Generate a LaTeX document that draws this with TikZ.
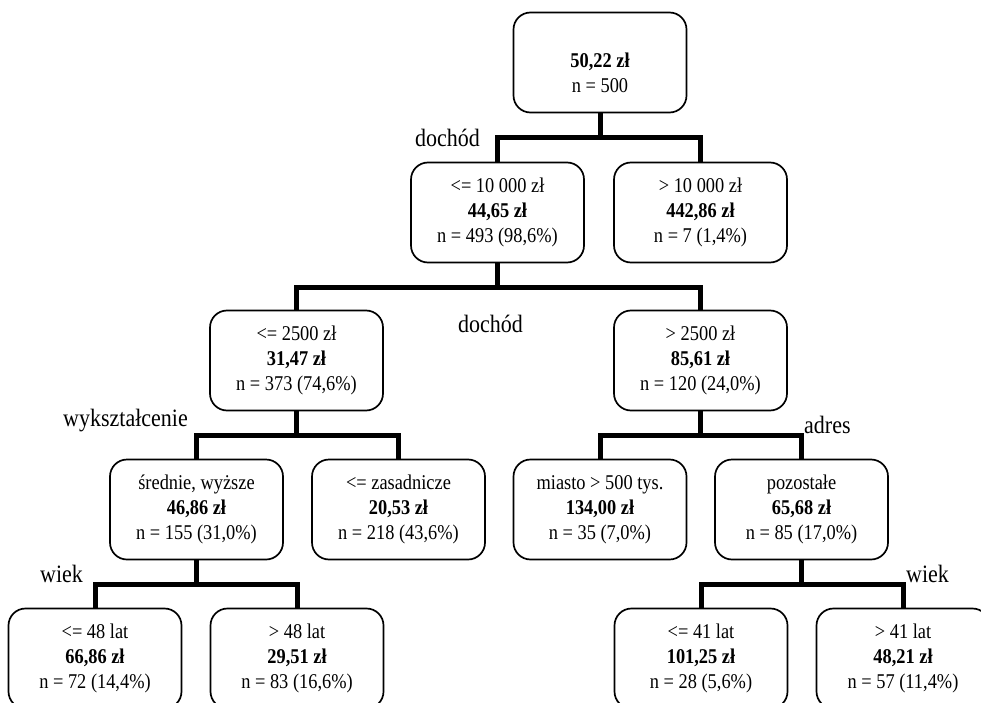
\documentclass[tikz,border=0pt]{standalone}
\usepackage{fontspec}
\usepackage{graphicx}
\setmainfont{Liberation Serif}
\newcommand{\bx}[3]{\scalebox{0.875}[1]{\begin{tabular}{@{}c@{}}#1\\\textbf{#2}\\#3\end{tabular}}}
\newcommand{\lbltxt}[1]{\scalebox{0.88}[1]{#1}}
\tikzset{
  box/.style={draw, line width=1.7pt, rounded corners=17pt, minimum width=173pt,
    minimum height=100pt, align=center, inner sep=0pt,
    font=\fontsize{21}{25}\selectfont},
  conn/.style={line width=5pt},
  split/.style={to path={(\tikztostart) -- ++(0,24.5) -| (\tikztotarget)}},
  lbl/.style={font=\fontsize{25}{28}\selectfont, inner sep=0pt, anchor=base west}
}
\begin{document}
\begin{tikzpicture}[x=1pt,y=-1pt]
\useasboundingbox (0,0) rectangle (981,703);
\clip (0,0) rectangle (981,703);
\node[box] (root) at (600,62.5) {\bx{}{50,22 zł}{n = 500}};
\node[box] (a) at (497.5,212.5) {\bx{<= 10 000 zł}{44,65 zł}{n = 493 (98,6\%)}};
\node[box] (b) at (700.5,212.5) {\bx{> 10 000 zł}{442,86 zł}{n = 7 (1,4\%)}};
\node[box] (c) at (296.5,360.5) {\bx{<= 2500 zł}{31,47 zł}{n = 373 (74,6\%)}};
\node[box] (d) at (700.5,360.5) {\bx{> 2500 zł}{85,61 zł}{n = 120 (24,0\%)}};
\node[box] (e) at (196.5,509.5) {\bx{średnie, wyższe}{46,86 zł}{n = 155 (31,0\%)}};
\node[box] (f) at (398.5,509.5) {\bx{<= zasadnicze}{20,53 zł}{n = 218 (43,6\%)}};
\node[box] (g) at (600,509.5) {\bx{miasto > 500 tys.}{134,00 zł}{n = 35 (7,0\%)}};
\node[box] (h) at (801.5,509.5) {\bx{pozostałe}{65,68 zł}{n = 85 (17,0\%)}};
\node[box] (i) at (95,658.5) {\bx{<= 48 lat}{66,86 zł}{n = 72 (14,4\%)}};
\node[box] (j) at (297,658.5) {\bx{> 48 lat}{29,51 zł}{n = 83 (16,6\%)}};
\node[box] (k) at (701,658.5) {\bx{<= 41 lat}{101,25 zł}{n = 28 (5,6\%)}};
\node[box] (l) at (903,658.5) {\bx{> 41 lat}{48,21 zł}{n = 57 (11,4\%)}};
\draw[conn] (root.south) to[split] (a.north);
\draw[conn] (root.south) to[split] (b.north);
\draw[conn] (a.south) to[split] (c.north);
\draw[conn] (a.south) to[split] (d.north);
\draw[conn] (c.south) to[split] (e.north);
\draw[conn] (c.south) to[split] (f.north);
\draw[conn] (d.south) to[split] (g.north);
\draw[conn] (d.south) to[split] (h.north);
\draw[conn] (e.south) to[split] (i.north);
\draw[conn] (e.south) to[split] (j.north);
\draw[conn] (h.south) to[split] (k.north);
\draw[conn] (h.south) to[split] (l.north);
\node[lbl] (l1) at (415,147) {\lbltxt{dochód}};
\node[lbl] (l2) at (458,332) {\lbltxt{dochód}};
\node[lbl] (l3) at (63,426) {\lbltxt{wykształcenie}};
\node[lbl] (l4) at (804,433) {\lbltxt{adres}};
\node[lbl] (l5) at (40,582) {\lbltxt{wiek}};
\node[lbl] (l6) at (906,582) {\lbltxt{wiek}};
\end{tikzpicture}
\end{document}
